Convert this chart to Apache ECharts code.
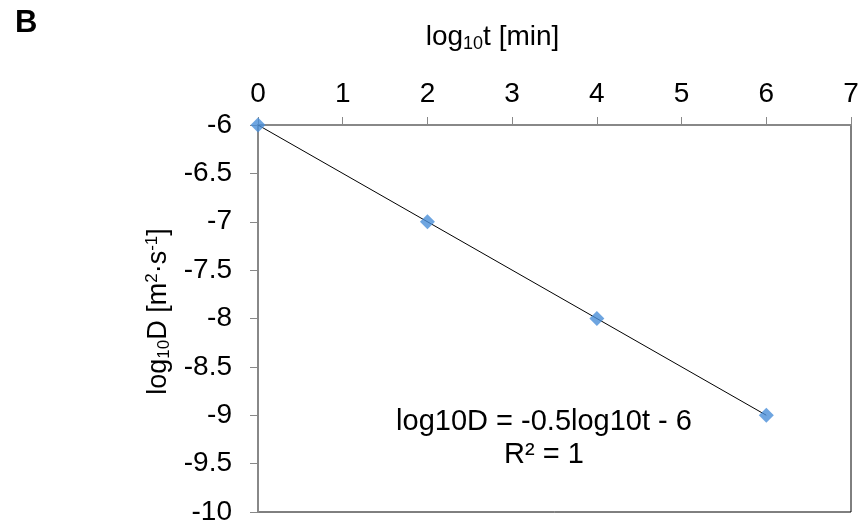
<!DOCTYPE html>
<html><head><meta charset="utf-8">
<script src="https://cdn.jsdelivr.net/npm/echarts@6/dist/echarts.min.js"></script>
<style>html,body{margin:0;padding:0;background:#fff}#c{width:863px;height:527px}</style>
</head><body><div id="c"></div>
<script>
const xTicks = [0,1,2,3,4,5,6,7];
const yTicks = [-6,-6.5,-7,-7.5,-8,-8.5,-9,-9.5,-10];
const logT = [0, 2, 4, 6];
const logD = [-6, -7, -8, -9];
const trendX = [0, 6];
const trendY = [-6, -9];
const eqLine1 = 'log10D = -0.5log10t - 6';
const eqLine2 = 'R² = 1';

const FONT = 'Liberation Sans, Arial, sans-serif';
const chart = echarts.init(document.getElementById('c'), null, {renderer:'canvas'});
const axisGray = '#888888';
chart.setOption({
  animation:false,
  backgroundColor:'#fff',
  grid:{left:258, top:125, right:12, bottom:15, show:true, borderColor:'#000', borderWidth:1, backgroundColor:'transparent'},
  xAxis:{
    type:'value', position:'top', min:0, max:7, interval:1,
    axisLine:{show:true, onZero:false, lineStyle:{color:axisGray, width:2}},
    axisTick:{show:true, length:8, inside:false, lineStyle:{color:axisGray, width:1}},
    splitLine:{show:false},
    axisLabel:{color:'#000', fontSize:28, fontFamily:FONT, margin:17},
    name:'{a|log}{s|10}{a|t [min]}', nameLocation:'middle', nameGap:72,
    nameTextStyle:{padding:[0,124,0,0], rich:{a:{fontSize:28, fontFamily:FONT, color:'#000'}, s:{fontSize:18, fontFamily:FONT, color:'#000', verticalAlign:'bottom', padding:[13,0,0,0]}}}
  },
  yAxis:{
    type:'value', min:-10, max:-6, interval:0.5,
    axisLine:{show:true, onZero:false, lineStyle:{color:axisGray, width:2}},
    axisTick:{show:true, length:8, inside:false, lineStyle:{color:axisGray, width:1}},
    splitLine:{show:false},
    axisLabel:{color:'#000', fontSize:28, fontFamily:FONT, margin:26},
    name:'{a|log}{s|10}{a|D [m}{p|2}{a|·s}{p|-1}{a|]}', nameLocation:'middle', nameGap:84, nameRotate:90,
    nameTextStyle:{padding:[0,0,0,14], rich:{a:{fontSize:27, fontFamily:FONT, color:'#000'}, s:{fontSize:17, fontFamily:FONT, color:'#000', verticalAlign:'bottom', padding:[12,0,0,0]}, p:{fontSize:17, fontFamily:FONT, color:'#000', verticalAlign:'top', padding:[0,0,12,0]}}}
  },
  series:[
    {type:'line', data:trendX.map((x,i)=>[x,trendY[i]]), symbol:'none', lineStyle:{color:'#000', width:1}, silent:true, z:2},
    {type:'scatter', data:logT.map((x,i)=>[x,logD[i]]), symbol:'diamond', symbolSize:15, itemStyle:{color:'#4A8FD8'}, z:3}
  ],
  graphic:[
    {type:'text', left:15, top:8, style:{text:'B', font:'bold 31px '+FONT, fill:'#000'}},
    {type:'text', x:544, y:405, style:{text:eqLine1+'\n'+eqLine2, font:'29px '+FONT, fill:'#000', align:'center', lineHeight:33}}
  ]
});
</script></body></html>
